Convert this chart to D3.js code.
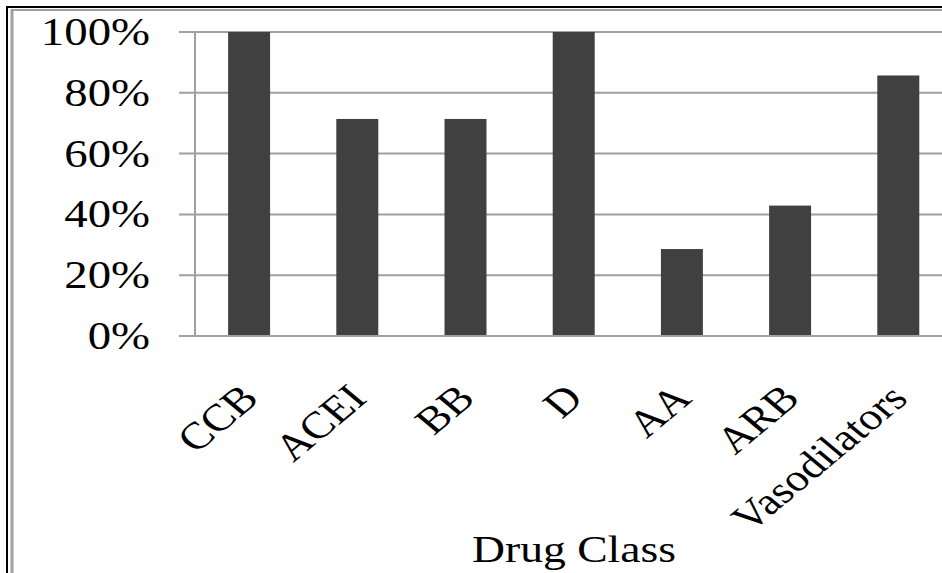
<!DOCTYPE html>
<html>
<head>
<meta charset="utf-8">
<script src="https://cdn.jsdelivr.net/npm/d3@7/dist/d3.min.js"></script>
<style>
  html, body { margin: 0; padding: 0; background: #fff; }
  svg { display: block; }
  text { font-family: "Liberation Serif", "Times New Roman", serif; fill: #000; }
</style>
</head>
<body>
<svg id="chart" width="942" height="573"></svg>
<script>
const categories = ["CCB", "ACEI", "BB", "D", "AA", "ARB", "Vasodilators"];
const values = [100, 71.4, 71.4, 100, 28.6, 42.9, 85.7];
const yTicks = [0, 20, 40, 60, 80, 100];
const xTitle = "Drug Class";

const W = 942, H = 573;
const stretch = 1.2;
const svg = d3.select("#chart");

svg.append("rect").attr("width", W).attr("height", H).attr("fill", "#fff");

// frame (left & top only visible)
svg.append("line").attr("x1", 7).attr("x2", 7).attr("y1", 6).attr("y2", H)
  .attr("stroke", "#000").attr("stroke-width", 2);
svg.append("line").attr("x1", 6).attr("x2", W).attr("y1", 7).attr("y2", 7)
  .attr("stroke", "#000").attr("stroke-width", 2);
svg.append("line").attr("x1", 12).attr("x2", 12).attr("y1", 9).attr("y2", H)
  .attr("stroke", "#a0a0a0").attr("stroke-width", 3);
svg.append("line").attr("x1", 11).attr("x2", W).attr("y1", 10).attr("y2", 10)
  .attr("stroke", "#a0a0a0").attr("stroke-width", 2);

const plotLeft = 195, plotTop = 32, plotBottom = 336;
const step = 108.2;
const x = d3.scaleBand()
  .domain(categories)
  .range([plotLeft, plotLeft + step * categories.length])
  .paddingInner(0.612)
  .paddingOuter(0.306);
const y = d3.scaleLinear().domain([0, 100]).range([plotBottom, plotTop]);

// gridlines + tick marks
svg.append("g").selectAll("line").data(yTicks).join("line")
  .attr("x1", 179).attr("x2", W)
  .attr("y1", d => y(d)).attr("y2", d => y(d))
  .attr("stroke", "#a0a0a0").attr("stroke-width", 2);

// y axis line
svg.append("line").attr("x1", plotLeft).attr("x2", plotLeft)
  .attr("y1", y(100)).attr("y2", y(0))
  .attr("stroke", "#a0a0a0").attr("stroke-width", 2);

// bars
svg.append("g").selectAll("rect").data(categories).join("rect")
  .attr("x", d => x(d))
  .attr("width", x.bandwidth())
  .attr("y", (d, i) => y(values[i]))
  .attr("height", (d, i) => y(0) - y(values[i]))
  .attr("fill", "#404040");

// redraw x axis line over bar bottoms
svg.append("line").attr("x1", 179).attr("x2", W)
  .attr("y1", y(0)).attr("y2", y(0))
  .attr("stroke", "#a0a0a0").attr("stroke-width", 2);

// y labels
svg.append("g").selectAll("text").data(yTicks).join("text")
  .attr("transform", d => `translate(150,${y(d) + 13}) scale(${stretch},1)`)
  .attr("text-anchor", "end")
  .style("font-size", "39px")
  .text(d => d + "%");

// x labels
svg.append("g").selectAll("text").data(categories).join("text")
  .attr("transform", d => `translate(${x(d) + x.bandwidth() / 2},391) scale(${stretch},1) rotate(-45)`)
  .attr("text-anchor", "end")
  .attr("dy", "0.35em")
  .style("font-size", "38px")
  .text(d => d);

// axis title
svg.append("text")
  .attr("transform", `translate(574,562) scale(${stretch},1)`)
  .attr("text-anchor", "middle")
  .style("font-size", "38px")
  .text(xTitle);
</script>
</body>
</html>
